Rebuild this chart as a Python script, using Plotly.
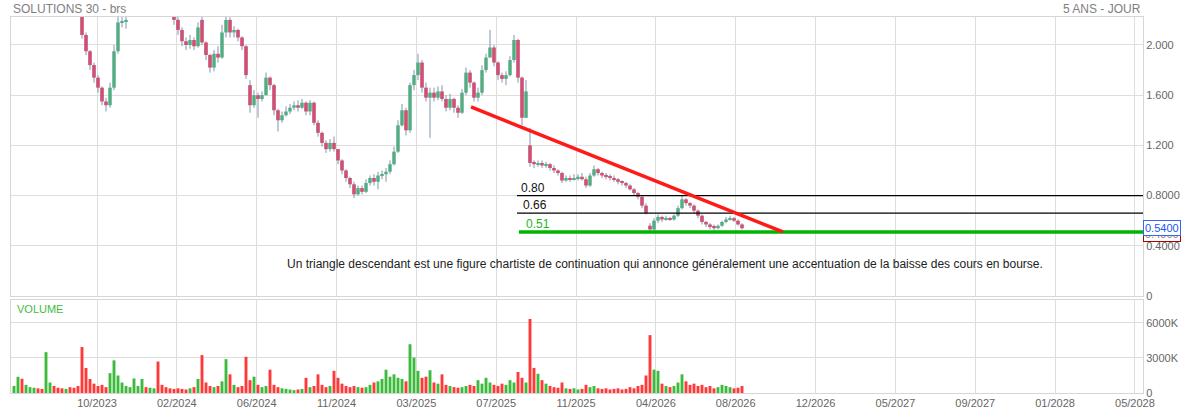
import plotly.graph_objects as go

# ---------------- data ----------------
opens = [2.40, 2.45, 2.50, 2.42, 2.48, 2.55, 2.60, 2.52, 2.47, 2.58,
         2.62, 2.55, 2.50, 2.46, 2.52, 2.44, 2.40, 2.36, 2.08, 1.95,
         1.84, 1.74, 1.66, 1.55, 1.52, 1.66, 1.95, 2.18, 2.19, 2.24,
         2.30, 2.38, 2.45, 2.50, 2.42, 2.48, 2.55, 2.46, 2.40, 2.35,
         2.30, 2.20, 2.12, 2.03, 2.00, 2.04, 1.99, 2.20, 2.02, 1.92,
         1.82, 1.93, 1.90, 2.10, 2.20, 2.10, 2.12, 2.06, 1.99, 1.68,
         1.52, 1.60, 1.57, 1.60, 1.74, 1.68, 1.48, 1.40, 1.44, 1.47,
         1.50, 1.52, 1.50, 1.54, 1.47, 1.54, 1.38, 1.30, 1.22, 1.17,
         1.22, 1.17, 1.08, 1.00, 0.94, 0.89, 0.81, 0.86, 0.83, 0.90,
         0.94, 0.91, 0.96, 0.97, 0.99, 1.05, 1.15, 1.36, 1.48, 1.32,
         1.68, 1.76, 1.86, 1.66, 1.58, 1.62, 1.58, 1.63, 1.57, 1.50,
         1.57, 1.50, 1.46, 1.62, 1.78, 1.70, 1.58, 1.62, 1.80, 1.90,
         1.98, 1.86, 1.76, 1.73, 1.76, 1.88, 2.04, 1.74, 1.42, 1.20,
         1.06, 1.05, 1.06, 1.04, 1.05, 1.02, 1.00, 0.98, 0.92, 0.94,
         0.93, 0.94, 0.95, 0.93, 0.88, 0.96, 1.01, 0.98, 0.96, 0.95,
         0.94, 0.93, 0.91, 0.90, 0.88, 0.85, 0.82, 0.79, 0.72, 0.56,
         0.53, 0.60, 0.63, 0.61, 0.62, 0.61, 0.64, 0.70, 0.77, 0.74,
         0.72, 0.68, 0.64, 0.59, 0.57, 0.55, 0.54, 0.56, 0.59, 0.61,
         0.62, 0.60, 0.57]

closes = [2.45, 2.50, 2.42, 2.48, 2.55, 2.60, 2.52, 2.47, 2.58, 2.62,
          2.55, 2.50, 2.46, 2.52, 2.44, 2.40, 2.36, 2.08, 1.95, 1.84,
          1.74, 1.66, 1.55, 1.52, 1.66, 1.95, 2.18, 2.19, 2.20, 2.30,
          2.38, 2.45, 2.50, 2.42, 2.48, 2.55, 2.46, 2.40, 2.35, 2.30,
          2.20, 2.12, 2.03, 2.00, 2.04, 1.99, 2.14, 2.02, 1.92, 1.82,
          1.93, 1.90, 2.10, 2.20, 2.10, 2.12, 2.06, 1.99, 1.76, 1.52,
          1.60, 1.57, 1.60, 1.74, 1.68, 1.48, 1.40, 1.44, 1.47, 1.50,
          1.52, 1.50, 1.54, 1.47, 1.54, 1.38, 1.30, 1.22, 1.17, 1.22,
          1.17, 1.08, 1.00, 0.94, 0.89, 0.81, 0.86, 0.83, 0.90, 0.94,
          0.91, 0.96, 0.97, 0.99, 1.05, 1.15, 1.36, 1.48, 1.32, 1.68,
          1.76, 1.86, 1.66, 1.58, 1.62, 1.58, 1.63, 1.57, 1.50, 1.57,
          1.50, 1.46, 1.62, 1.78, 1.70, 1.58, 1.62, 1.80, 1.90, 1.98,
          1.86, 1.76, 1.73, 1.76, 1.88, 2.04, 1.74, 1.42, 1.63, 1.06,
          1.05, 1.06, 1.04, 1.05, 1.02, 1.00, 0.98, 0.92, 0.94, 0.93,
          0.94, 0.95, 0.93, 0.88, 0.96, 1.01, 0.98, 0.96, 0.95, 0.94,
          0.93, 0.91, 0.90, 0.88, 0.85, 0.82, 0.79, 0.72, 0.66, 0.53,
          0.60, 0.63, 0.61, 0.62, 0.61, 0.64, 0.70, 0.77, 0.74, 0.72,
          0.68, 0.64, 0.59, 0.57, 0.55, 0.54, 0.56, 0.59, 0.61, 0.62,
          0.60, 0.57, 0.54]

highs = [2.52, 2.56, 2.53, 2.52, 2.60, 2.66, 2.62, 2.55, 2.62, 2.68,
         2.64, 2.58, 2.53, 2.56, 2.54, 2.47, 2.44, 2.38, 2.10, 1.96,
         1.86, 1.76, 1.67, 1.58, 1.70, 2.00, 2.25, 2.24, 2.26, 2.36,
         2.42, 2.50, 2.55, 2.52, 2.52, 2.60, 2.58, 2.48, 2.43, 2.38,
         2.32, 2.23, 2.14, 2.06, 2.08, 2.06, 2.18, 2.24, 2.03, 1.93,
         1.96, 1.99, 2.16, 2.26, 2.22, 2.15, 2.13, 2.07, 2.00, 1.72,
         1.64, 1.62, 1.63, 1.78, 1.75, 1.69, 1.49, 1.47, 1.51, 1.53,
         1.55, 1.56, 1.57, 1.55, 1.56, 1.55, 1.40, 1.31, 1.24, 1.25,
         1.27, 1.17, 1.09, 1.01, 0.95, 0.91, 0.88, 0.88, 0.93, 0.96,
         0.97, 0.99, 1.00, 1.02, 1.08, 1.19, 1.40, 1.53, 1.50, 1.70,
         1.80, 1.93, 1.88, 1.70, 1.66, 1.66, 1.67, 1.68, 1.60, 1.61,
         1.58, 1.52, 1.65, 1.82, 1.80, 1.71, 1.66, 1.84, 1.93, 2.12,
         2.00, 1.87, 1.78, 1.79, 1.91, 2.08, 2.05, 1.75, 1.72, 1.34,
         1.08, 1.08, 1.08, 1.07, 1.06, 1.04, 1.01, 0.99, 0.96, 0.96,
         0.97, 0.97, 0.98, 0.95, 0.98, 1.04, 1.02, 0.99, 0.98, 0.97,
         0.96, 0.94, 0.92, 0.91, 0.89, 0.86, 0.83, 0.80, 0.74, 0.58,
         0.62, 0.65, 0.64, 0.64, 0.63, 0.65, 0.72, 0.80, 0.78, 0.75,
         0.73, 0.69, 0.65, 0.60, 0.58, 0.57, 0.57, 0.60, 0.63, 0.64,
         0.63, 0.61, 0.58]

lows = [2.35, 2.40, 2.38, 2.40, 2.45, 2.52, 2.48, 2.44, 2.45, 2.55,
        2.50, 2.46, 2.42, 2.44, 2.40, 2.36, 2.32, 2.05, 1.92, 1.80,
        1.70, 1.62, 1.52, 1.47, 1.50, 1.64, 1.93, 2.14, 2.13, 2.24,
        2.28, 2.35, 2.42, 2.40, 2.40, 2.46, 2.44, 2.37, 2.32, 2.28,
        2.16, 2.08, 1.99, 1.96, 1.97, 1.96, 1.98, 2.00, 1.88, 1.78,
        1.79, 1.86, 1.89, 2.06, 2.06, 2.06, 2.03, 1.96, 1.73, 1.46,
        1.50, 1.42, 1.55, 1.60, 1.64, 1.44, 1.31, 1.38, 1.43, 1.45,
        1.48, 1.47, 1.49, 1.44, 1.44, 1.36, 1.27, 1.19, 1.14, 1.15,
        1.15, 1.05, 0.97, 0.91, 0.86, 0.78, 0.80, 0.81, 0.82, 0.88,
        0.88, 0.85, 0.93, 0.91, 0.97, 1.04, 1.14, 1.35, 1.28, 1.30,
        1.64, 1.72, 1.62, 1.55, 1.26, 1.55, 1.56, 1.55, 1.47, 1.48,
        1.46, 1.42, 1.45, 1.60, 1.66, 1.55, 1.55, 1.60, 1.78, 1.90,
        1.83, 1.72, 1.70, 1.68, 1.75, 1.86, 1.70, 1.36, 1.42, 1.03,
        1.02, 1.03, 1.02, 1.02, 1.00, 0.98, 0.96, 0.90, 0.91, 0.91,
        0.92, 0.92, 0.92, 0.86, 0.87, 0.95, 0.96, 0.94, 0.93, 0.92,
        0.91, 0.89, 0.88, 0.86, 0.84, 0.80, 0.77, 0.70, 0.65, 0.50,
        0.52, 0.58, 0.59, 0.60, 0.60, 0.60, 0.63, 0.69, 0.72, 0.70,
        0.66, 0.62, 0.57, 0.55, 0.53, 0.52, 0.53, 0.55, 0.58, 0.60,
        0.59, 0.56, 0.53]

volumes_k = [600, 1390, 1220, 700, 500, 450, 400, 350, 3500, 900,
             600, 450, 400, 350, 500, 450, 600, 3940, 2140, 1200,
             800, 600, 700, 500, 1700, 2800, 1500, 900, 600, 500,
             1250, 600, 1200, 500, 450, 400, 2700, 700, 500, 400,
             350, 400, 350, 300, 400, 500, 1200, 3250, 900, 600,
             500, 600, 1000, 2900, 1600, 700, 500, 600, 3100, 1100,
             1400, 700, 500, 600, 2000, 700, 500, 400, 350, 300,
             250, 300, 350, 1300, 500, 600, 1600, 700, 500, 600,
             1900, 1300, 800, 600, 500, 600, 500, 450, 500, 700,
             900, 1000, 1200, 2000, 1400, 1600, 1300, 1200, 1000, 4180,
             3040, 1900, 1300, 1400, 1950, 900, 800, 1600, 700, 600,
             500, 450, 500, 600, 700, 600, 1100, 800, 1300, 900,
             700, 600, 800, 700, 1100, 900, 1800, 1300, 900, 6350,
             2150, 1650, 1100, 800, 600, 500, 450, 900, 400, 350,
             400, 300, 350, 700, 500, 600, 400, 350, 400, 300,
             350, 400, 300, 350, 500, 400, 600, 700, 1500, 4960,
             2000, 1900, 800, 600, 500, 600, 900, 1600, 1000, 700,
             800, 600, 700, 500, 600, 400, 500, 700, 600, 500,
             400, 450, 600]

tick_labels = ["10/2023", "02/2024", "06/2024", "11/2024", "03/2025", "07/2025",
               "11/2025", "04/2026", "08/2026", "12/2026", "05/2027", "09/2027",
               "01/2028", "05/2028"]

levels = [0.80, 0.66, 0.51]
level_labels = ["0.80", "0.66", "0.51"]
level_start = [125.75, 125.75, 126.25]
trend_x = [114.25, 192.25]
trend_y = [1.506, 0.51]
last_price = 0.54
marker_price = 0.494

price_ticks = [0, 0.4, 0.8, 1.2, 1.6, 2.0]
price_tick_text = ["0", "0.4000", "0.8000", "1.200", "1.600", "2.000"]
vol_ticks = [0, 3000, 6000]
vol_tick_text = ["0", "3000K", "6000K"]

note = ("Un triangle descendant est une figure chartiste de continuation qui annonce "
        "généralement une accentuation de la baisse des cours en bourse.")

# ---------------- figure ----------------
n = len(closes)
xs = list(range(n))
RED = "#e6234a"
GREEN = "#3bb46a"
VRED = "#ff3838"
VGREEN = "#3cba3c"
WICK = "#8096b2"
GRID = "#dedede"
FONT = "Arial, Liberation Sans, sans-serif"

tick_pos = [20.75 + 19.96 * j for j in range(len(tick_labels))]
x_range = [-0.75, 282.25]

fig = go.Figure()

# wicks
wx, wy = [], []
for i in xs:
    wx += [i, i, None]
    wy += [lows[i], highs[i], None]
fig.add_trace(go.Scatter(x=wx, y=wy, mode="lines", line=dict(color=WICK, width=1),
                         hoverinfo="skip", xaxis="x", yaxis="y"))

# bodies
up = [c >= o for o, c in zip(opens, closes)]
fig.add_trace(go.Bar(x=xs, y=[c - o for o, c in zip(opens, closes)], base=opens,
                     width=0.85, marker=dict(color=[GREEN if u else RED for u in up],
                                             line=dict(width=0)),
                     xaxis="x", yaxis="y"))

# volume
fig.add_trace(go.Bar(x=xs, y=volumes_k, width=0.72,
                     marker=dict(color=[VGREEN if u else VRED for u in up], line=dict(width=0)),
                     xaxis="x2", yaxis="y2"))

# horizontal levels
for lv, st in zip(levels, level_start):
    green = abs(lv - 0.51) < 1e-9
    fig.add_trace(go.Scatter(x=[st, x_range[1]], y=[lv, lv], mode="lines",
                             line=dict(color="#00b400" if green else "#000000",
                                       width=3.5 if green else 1.3),
                             hoverinfo="skip", xaxis="x", yaxis="y"))

# trend line
fig.add_trace(go.Scatter(x=trend_x, y=trend_y, mode="lines",
                         line=dict(color="#ff1a1a", width=3.5),
                         hoverinfo="skip", xaxis="x", yaxis="y"))

annotations = []
for lv, lab, st in zip(levels, level_labels, level_start):
    green = abs(lv - 0.51) < 1e-9
    annotations.append(dict(x=st + 0.6 + (0.5 if lab == "0.66" else 0) + (0.6 if green else 0),
                            y=lv, xref="x", yref="y", text=lab, showarrow=False,
                            xanchor="left", yanchor="middle", yshift=8,
                            font=dict(family=FONT, size=12,
                                      color="#1fb51f" if green else "#111111")))

annotations += [
    dict(x=0, y=1.0215, xref="paper", yref="paper", text="SOLUTIONS 30 - brs",
         showarrow=False, xanchor="left", yanchor="middle",
         font=dict(family=FONT, size=12, color="#808080")),
    dict(x=1, y=1.0215, xref="paper", yref="paper", text="5 ANS - JOUR",
         showarrow=False, xanchor="right", yanchor="middle",
         font=dict(family=FONT, size=12, color="#808080")),
    dict(x=0.0035, y=0.90, xref="x2 domain", yref="y2 domain", text="VOLUME",
         showarrow=False, xanchor="left", yanchor="middle",
         font=dict(family=FONT, size=11, color="#44bb44")),
    dict(x=162.75, y=0.255, xref="x", yref="y", text=note, showarrow=False,
         xanchor="center", yanchor="middle",
         font=dict(family=FONT, size=12, color="#222222")),
    dict(x=1.0, y=marker_price, xref="paper", yref="y", text="0.4900", showarrow=False,
         xanchor="left", yanchor="middle", bgcolor="#ffffff", bordercolor="#b00000",
         borderwidth=1, borderpad=1,
         font=dict(family=FONT, size=11, color="#888888")),
    dict(x=1.0, y=last_price, xref="paper", yref="y", text="0.5400", showarrow=False,
         xanchor="left", yanchor="middle", bgcolor="#ffffff", bordercolor="#3366ff",
         borderwidth=1, borderpad=1,
         font=dict(family=FONT, size=11, color="#2255ee")),
]

axis_common = dict(showgrid=True, gridcolor=GRID, gridwidth=1, zeroline=False,
                   showline=True, linecolor="#d6d6d6", linewidth=1, mirror=True,
                   ticks="", tickfont=dict(family=FONT, size=11, color="#666666"))

fig.update_layout(
    width=1188, height=413,
    margin=dict(l=11, r=45, t=17, b=20, autoexpand=False),
    paper_bgcolor="#ffffff", plot_bgcolor="#ffffff",
    showlegend=False, barmode="overlay",
    font=dict(family=FONT),
    xaxis=dict(domain=[0, 1], anchor="y", range=x_range, tickmode="array",
               tickvals=tick_pos, ticktext=tick_labels, showticklabels=False,
               matches="x2", **axis_common),
    yaxis=dict(domain=[0.258, 1], anchor="x", side="right", range=[0, 2.223],
               tickmode="array", tickvals=price_ticks, ticktext=price_tick_text,
               **axis_common),
    xaxis2=dict(domain=[0, 1], anchor="y2", range=x_range, tickmode="array",
                tickvals=tick_pos, ticktext=tick_labels, **axis_common),
    yaxis2=dict(domain=[0, 0.2473], anchor="x2", side="right", range=[0, 7970],
                tickmode="array", tickvals=vol_ticks, ticktext=vol_tick_text,
                **axis_common),
    annotations=annotations,
)

fig.write_html("out.html", config={"displayModeBar": False},
               post_script="document.body.style.margin='0';"
                           "document.body.style.overflow='hidden';")
